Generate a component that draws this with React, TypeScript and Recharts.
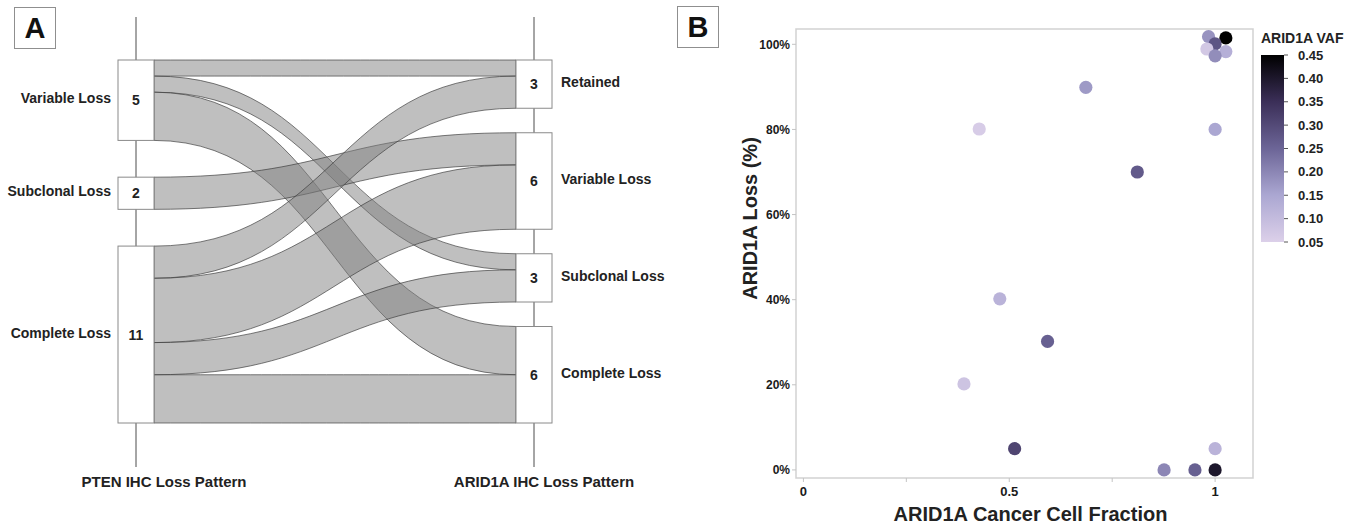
import React from 'react';
import { Sankey, ScatterChart, Scatter, XAxis, YAxis, ReferenceArea } from 'recharts';

// ---- Panel A: PTEN -> ARID1A IHC loss pattern flows ----
const ptenPatterns = ['Variable Loss', 'Subclonal Loss', 'Complete Loss'];
const arid1aPatterns = ['Retained', 'Variable Loss', 'Subclonal Loss', 'Complete Loss'];
const flowFrom = [0, 0, 0, 1, 2, 2, 2, 2]; // index into ptenPatterns
const flowTo = [0, 2, 3, 1, 0, 1, 2, 3]; // index into arid1aPatterns
const flowCases = [1, 1, 3, 2, 2, 4, 2, 3];
const axisTitles = ['PTEN IHC Loss Pattern', 'ARID1A IHC Loss Pattern'];

// ---- Panel B: ARID1A CCF vs loss, coloured by VAF ----
const ccf = [0.984, 1.026, 1.0, 0.98, 1.026, 1.0, 0.686, 0.427, 1.0, 0.811, 0.477, 0.593, 0.39, 0.513, 1.0, 0.876, 0.951, 1.0];
const arid1aLoss = [101.8, 101.5, 100.1, 98.9, 98.3, 97.3, 89.9, 80.1, 80, 70, 40.2, 30.2, 20.2, 5, 5, 0, 0, 0];
const arid1aVaf = [0.18, 0.45, 0.28, 0.07, 0.13, 0.19, 0.17, 0.06, 0.15, 0.27, 0.12, 0.26, 0.08, 0.31, 0.12, 0.2, 0.26, 0.4];
const lossTicks = [0, 20, 40, 60, 80, 100];
const ccfTicks = [0, 0.25, 0.5, 0.75, 1];
const ccfTickLabels = ['0', '', '0.5', '', '1'];
const vafTicks = [0.05, 0.1, 0.15, 0.2, 0.25, 0.3, 0.35, 0.4, 0.45];
const vafStopValues = [0.05, 0.15, 0.25, 0.35, 0.45];
const vafStopColors = ['#dcd0e9', '#aba7d2', '#6c6597', '#3b2f58', '#000000'];

const FONT = '"Liberation Sans", Arial, sans-serif';

// sankey geometry
const SK_W = 680;
const SK_H = 525;
const SK_MARGIN = { top: 60, right: 128, bottom: 102, left: 118 };
const NODE_W = 36;
const NODE_PAD = 24.5;
const innerH = SK_H - SK_MARGIN.top - SK_MARGIN.bottom;

const colTotals = [
  ptenPatterns.map((_, i) => flowCases.filter((_, k) => flowFrom[k] === i).reduce((a, b) => a + b, 0)),
  arid1aPatterns.map((_, i) => flowCases.filter((_, k) => flowTo[k] === i).reduce((a, b) => a + b, 0)),
];
const colSum = colTotals.map((c) => c.reduce((a, b) => a + b, 0));
const yRatio = Math.min(...colTotals.map((c, i) => (innerH - (c.length - 1) * NODE_PAD) / colSum[i]));
// recharts stacks every column from the top; spread the short columns so both fill the height
const extraGap = colTotals.map((c, i) =>
  c.length > 1 ? (innerH - colSum[i] * yRatio - (c.length - 1) * NODE_PAD) / (c.length - 1) : 0
);

const sankeyNodes = [
  ...ptenPatterns.map((name, row) => ({ name, col: 0, row })),
  ...arid1aPatterns.map((name, row) => ({ name, col: 1, row })),
];
const sankeyLinks = flowCases.map((value, k) => ({
  source: flowFrom[k],
  target: ptenPatterns.length + flowTo[k],
  value,
}));

const nodeOf = (n: any) => (typeof n === 'number' ? sankeyNodes[n] : n);
const shiftOf = (n: any) => {
  const node = nodeOf(n);
  return node.row * extraGap[node.col];
};

const FlowBand = (props: any) => {
  const { sourceX, targetX, sourceY, targetY, sourceControlX, targetControlX, linkWidth, payload } = props;
  const sy = sourceY + shiftOf(payload.source);
  const ty = targetY + shiftOf(payload.target);
  const h = linkWidth / 2;
  const d =
    `M${sourceX},${sy - h}C${sourceControlX},${sy - h} ${targetControlX},${ty - h} ${targetX},${ty - h}` +
    `L${targetX},${ty + h}C${targetControlX},${ty + h} ${sourceControlX},${sy + h} ${sourceX},${sy + h}Z`;
  return <path d={d} fill="#7f7f7f" fillOpacity={0.5} stroke="#3c3c3c" strokeWidth={0.9} strokeOpacity={0.75} />;
};

const titleOffset = [28, 10];

const PatternNode = (props: any) => {
  const { x, y, width, height, payload } = props;
  const top = y + shiftOf(payload);
  const cx = x + width / 2;
  const left = payload.col === 0;
  return (
    <g>
      {payload.row === 0 && (
        <>
          <line x1={cx} x2={cx} y1={y - 43} y2={SK_MARGIN.top + innerH + 44} stroke="#4d4d4d" strokeWidth={1} />
          <text x={cx + titleOffset[payload.col]} y={SK_MARGIN.top + innerH + 58} textAnchor="middle"
            dominantBaseline="central" fontSize={15} fontWeight="bold" fill="#222">
            {axisTitles[payload.col]}
          </text>
        </>
      )}
      <rect x={x} y={top} width={width} height={height} fill="#fff" stroke="#8a8a8a" strokeWidth={1} />
      <text x={cx} y={top + height / 2} textAnchor="middle" dominantBaseline="central" fontSize={14}
        fontWeight="bold" fill="#222">
        {payload.value}
      </text>
      <text x={left ? x - 7 : x + width + 9} y={top + height / 2 - 2} textAnchor={left ? 'end' : 'start'}
        dominantBaseline="central" fontSize={14} fontWeight="bold" fill="#222">
        {payload.name}
      </text>
    </g>
  );
};

const hex = (c: string) => [1, 3, 5].map((i) => parseInt(c.slice(i, i + 2), 16));
const vafColor = (v: number) => {
  let i = 0;
  while (i < vafStopValues.length - 2 && v > vafStopValues[i + 1]) i++;
  const t = Math.max(0, Math.min(1, (v - vafStopValues[i]) / (vafStopValues[i + 1] - vafStopValues[i])));
  const a = hex(vafStopColors[i]);
  const b = hex(vafStopColors[i + 1]);
  return `rgb(${a.map((ch, k) => Math.round(ch + (b[k] - ch) * t)).join(',')})`;
};

const VafDot = (props: any) => {
  const { cx, cy, payload } = props;
  if (cx == null || cy == null) return null;
  return <circle cx={cx} cy={cy} r={6.6} fill={vafColor(payload.vaf)} />;
};

const scatterData = ccf.map((x, i) => ({ ccf: x, loss: arid1aLoss[i], vaf: arid1aVaf[i] }));

const X_DOMAIN: [number, number] = [-0.018, 1.092];
const Y_DOMAIN: [number, number] = [-1.9, 103.6];

const PanelTag = ({ letter, left, top }: { letter: string; left: number; top: number }) => (
  <div
    style={{
      position: 'absolute', left, top, width: 40, height: 40,
      border: '1.5px solid #8f8f8f', display: 'flex', alignItems: 'center', justifyContent: 'center',
      fontSize: 29, fontWeight: 'bold', color: '#111', lineHeight: 1,
    }}
  >
    {letter}
  </div>
);

const VafLegend = () => {
  const barX = 11;
  const barTop = 35;
  const barH = 187;
  const lo = vafTicks[0];
  const hi = vafTicks[vafTicks.length - 1];
  const yOf = (v: number) => barTop + ((hi - v) / (hi - lo)) * barH;
  // gradient runs top (high VAF) to bottom (low VAF), so stops go in reverse
  const stops = vafStopValues.map((v, i) => ({ v, color: vafStopColors[i] })).reverse();
  return (
    <svg width={115} height={240} style={{ position: 'absolute', left: 1250, top: 20 }}>
      <defs>
        <linearGradient id="vafGrad" x1="0" y1="0" x2="0" y2="1">
          {stops.map((s) => (
            <stop key={s.v} offset={(hi - s.v) / (hi - lo)} stopColor={s.color} />
          ))}
        </linearGradient>
      </defs>
      <text x={barX} y={18} dominantBaseline="central" fontSize={14} fontWeight="bold" fill="#222">ARID1A VAF</text>
      <rect x={barX} y={barTop} width={23} height={barH} fill="url(#vafGrad)" />
      {vafTicks.map((v) => (
        <g key={v}>
          <line x1={barX + 23} x2={barX + 27} y1={yOf(v)} y2={yOf(v)} stroke="#555" />
          <text x={barX + 37} y={yOf(v)} dominantBaseline="central" fontSize={13} fontWeight="bold" fill="#222">
            {v.toFixed(2)}
          </text>
        </g>
      ))}
    </svg>
  );
};

export default function App() {
  return (
    <div style={{ position: 'absolute', left: 0, top: 0, width: 1365, height: 525, background: '#fff', fontFamily: FONT }}>
      <PanelTag letter="A" left={14} top={7} />
      <PanelTag letter="B" left={677} top={6} />

      <div style={{ position: 'absolute', left: 0, top: 0 }}>
        <Sankey
          width={SK_W}
          height={SK_H}
          data={{ nodes: sankeyNodes, links: sankeyLinks }}
          nodeWidth={NODE_W}
          nodePadding={NODE_PAD}
          margin={SK_MARGIN}
          iterations={0}
          sort={false}
          linkCurvature={0.5}
          node={PatternNode}
          link={FlowBand}
        />
      </div>

      <div style={{ position: 'absolute', left: 740, top: 0 }}>
        <ScatterChart width={625} height={525} margin={{ top: 29, right: 112, bottom: 0, left: 0 }}>
          <XAxis
            type="number"
            dataKey="ccf"
            domain={X_DOMAIN}
            allowDataOverflow
            ticks={ccfTicks}
            interval={0}
            tickFormatter={(v: number) => ccfTickLabels[ccfTicks.indexOf(v)] ?? ''}
            axisLine={false}
            tickLine={{ stroke: '#c4c4c4' }}
            tickSize={4}
            tickMargin={5}
            height={47}
            tick={{ fill: '#1a1a1a', fontSize: 13, fontWeight: 'bold' }}
            label={(p: any) => {
              const vb = p.viewBox || { x: 56, y: 478, width: 457, height: 47 };
              return (
                <text x={vb.x + vb.width / 2 + 6} y={vb.y + 36} textAnchor="middle" dominantBaseline="central"
                  fontSize={20} fontWeight="bold" fill="#222">
                  ARID1A Cancer Cell Fraction
                </text>
              );
            }}
          />
          <YAxis
            type="number"
            dataKey="loss"
            domain={Y_DOMAIN}
            allowDataOverflow
            ticks={lossTicks}
            interval={0}
            tickFormatter={(v: number) => `${v}%`}
            axisLine={false}
            tickLine={{ stroke: '#c4c4c4' }}
            tickSize={4}
            tickMargin={2}
            width={56}
            tick={{ fill: '#1a1a1a', fontSize: 12, fontWeight: 'bold' }}
            label={(p: any) => {
              const vb = p.viewBox || { x: 0, y: 29, width: 56, height: 449 };
              const ly = vb.y + vb.height / 2 - 35;
              return (
                <text x={vb.x + 10} y={ly} transform={`rotate(-90 ${vb.x + 10} ${ly})`} textAnchor="middle"
                  dominantBaseline="central" fontSize={20} fontWeight="bold" fill="#222">
                  ARID1A Loss (%)
                </text>
              );
            }}
          />
          <ReferenceArea x1={X_DOMAIN[0]} x2={X_DOMAIN[1]} y1={Y_DOMAIN[0]} y2={Y_DOMAIN[1]}
            fill="none" fillOpacity={0} stroke="#d2d2d2" strokeWidth={1.5} ifOverflow="visible" />
          <Scatter data={scatterData} isAnimationActive={false} shape={VafDot} />
        </ScatterChart>
      </div>

      <VafLegend />
    </div>
  );
}
